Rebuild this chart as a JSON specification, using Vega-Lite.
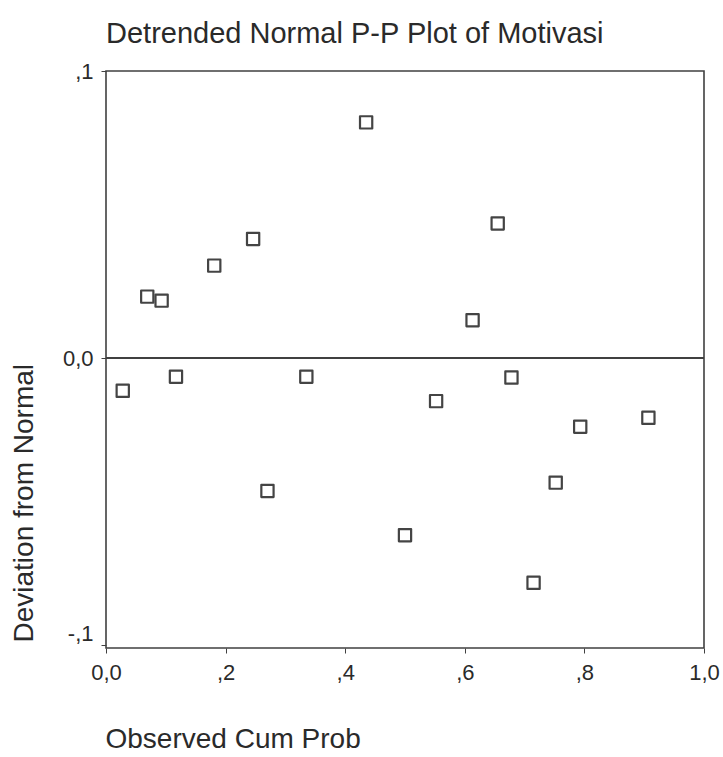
{
  "$schema": "https://vega.github.io/schema/vega-lite/v6.json",
  "width": 598,
  "height": 577,
  "autosize": "none",
  "padding": {"left": 106, "top": 71, "right": 19, "bottom": 109},
  "background": "white",
  "title": {
    "text": "Detrended Normal P-P Plot of Motivasi",
    "anchor": "start",
    "frame": "group",
    "fontSize": 29,
    "font": "Liberation Sans",
    "fontWeight": "normal",
    "color": "#2a2a2a",
    "offset": 11
  },
  "config": {
    "view": {"stroke": "#404040", "strokeWidth": 1.6},
    "axis": {
      "grid": false,
      "domain": false,
      "labelFont": "Liberation Sans",
      "titleFont": "Liberation Sans",
      "labelColor": "#2a2a2a",
      "titleColor": "#2a2a2a",
      "tickColor": "#404040",
      "labelFontSize": 22,
      "titleFontWeight": "normal"
    }
  },
  "data": {
    "values": [
      {"cum": 0.028, "dev": -0.0114},
      {"cum": 0.069, "dev": 0.0214},
      {"cum": 0.093, "dev": 0.0200},
      {"cum": 0.117, "dev": -0.0065},
      {"cum": 0.181, "dev": 0.0322},
      {"cum": 0.246, "dev": 0.0415},
      {"cum": 0.270, "dev": -0.0463},
      {"cum": 0.335, "dev": -0.0065},
      {"cum": 0.435, "dev": 0.0821},
      {"cum": 0.500, "dev": -0.0617},
      {"cum": 0.552, "dev": -0.0150},
      {"cum": 0.613, "dev": 0.0132},
      {"cum": 0.655, "dev": 0.0469},
      {"cum": 0.678, "dev": -0.0068},
      {"cum": 0.715, "dev": -0.0783},
      {"cum": 0.752, "dev": -0.0434},
      {"cum": 0.793, "dev": -0.0239},
      {"cum": 0.907, "dev": -0.0208}
    ]
  },
  "layer": [
    {
      "mark": {"type": "rule", "color": "#404040", "strokeWidth": 1.6},
      "encoding": {"y": {"datum": 0, "type": "quantitative"}}
    },
    {
      "mark": {"type": "point", "shape": "square", "filled": false, "size": 150, "strokeWidth": 2.2, "strokeJoin": "round", "color": "#444444", "opacity": 1},
      "encoding": {
        "x": {
          "field": "cum",
          "type": "quantitative",
          "scale": {"domain": [0, 1], "nice": false, "zero": false},
          "axis": {
            "title": "Observed Cum Prob",
            "titleFontSize": 28,
            "values": [0, 0.2, 0.4, 0.6, 0.8, 1],
            "labelExpr": "datum.value == 0 ? '0,0' : (datum.value == 1 ? '1,0' : ',' + round(datum.value * 10))",
            "labelFlush": false,
            "tickSize": 5,
            "labelPadding": 9,
            "titleAnchor": "start",
            "titleAlign": "left",
            "titleBaseline": "top",
            "titleX": -1,
            "titleY": 77
          }
        },
        "y": {
          "field": "dev",
          "type": "quantitative",
          "scale": {"domain": [-0.101, 0.1], "nice": false, "zero": false},
          "axis": {
            "title": "Deviation from Normal",
            "titleFontSize": 28,
            "values": [-0.1, 0, 0.1],
            "labelExpr": "datum.value == 0 ? '0,0' : (datum.value > 0 ? ',1' : '-,1')",
            "labelFlush": false,
            "labelBaseline": {"condition": {"test": "datum.value < 0", "value": "bottom"}, "value": "middle"},
            "tickSize": 5,
            "labelPadding": 8,
            "titleAngle": 270,
            "titleAlign": "left",
            "titleBaseline": "middle",
            "titleX": -82,
            "titleY": 571
          }
        }
      }
    }
  ]
}
